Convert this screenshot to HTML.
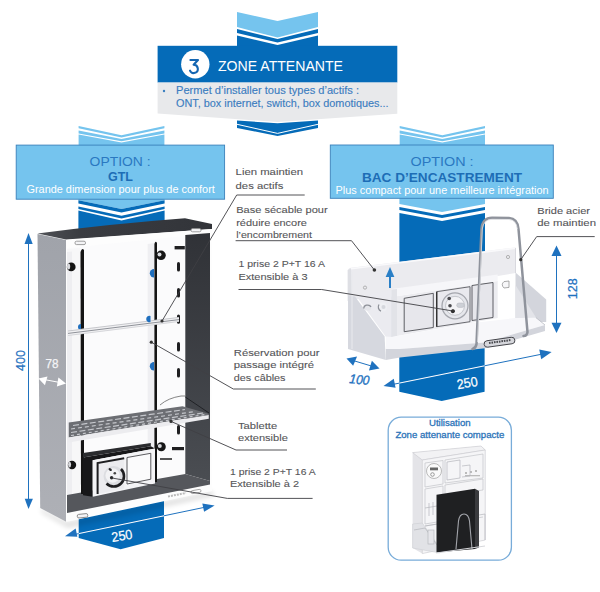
<!DOCTYPE html>
<html><head><meta charset="utf-8">
<style>
html,body{margin:0;padding:0;background:#fff;width:600px;height:592px;overflow:hidden}
svg{display:block}
text{font-family:"Liberation Sans",sans-serif}
</style></head>
<body>
<svg width="600" height="592" viewBox="0 0 600 592">
<rect width="600" height="592" fill="#fff"/>

<!-- ===== TOP: zone attenante ===== -->
<polygon points="237,12 277.5,21 318,12 318,27 277.5,37.5 237,27" fill="#75c4ee"/>
<polygon points="237,29 277.5,39 318,29 318,33 277.5,42.5 237,33" fill="#056bb8"/>
<polygon points="237,35.5 277.5,45 318,35.5 318,47 237,47" fill="#056bb8"/>
<rect x="157.6" y="45.8" width="239.7" height="36.8" fill="#056bb8"/>
<polygon points="157.6,82.6 397.3,82.6 397.3,113.8 277.5,122 157.6,113.5" fill="#e8e9eb"/>
<polygon points="237,120.6 277.5,123.3 318,120.6 318,128 277.5,136 237,128" fill="#056bb8"/>
<polyline points="237,124.3 277.5,133.4 318,124.3" fill="none" stroke="#fff" stroke-width="1"/>
<circle cx="195.3" cy="64.3" r="14.2" fill="#fff"/>
<path d="M190.4,60 H198 L193.6,64.8 A4.1,4.1 0 1 1 190,70.6" fill="none" stroke="#1466b2" stroke-width="2.1" stroke-linecap="round" stroke-linejoin="round"/>
<text x="218" y="70.5" font-size="14" fill="#fff" textLength="125" lengthAdjust="spacingAndGlyphs">ZONE ATTENANTE</text>
<circle cx="164" cy="91" r="1.2" fill="#3a7fc0"/>
<text x="176" y="94.4" font-size="10" fill="#3a7cc0" stroke="#3a7cc0" stroke-width="0.12" textLength="183" lengthAdjust="spacingAndGlyphs">Permet d’installer tous types d’actifs :</text>
<text x="176" y="106.7" font-size="10" fill="#3a7cc0" stroke="#3a7cc0" stroke-width="0.12" textLength="212.5" lengthAdjust="spacingAndGlyphs">ONT, box internet, switch, box domotiques...</text>

<!-- ===== LEFT panel chevron ===== -->
<polygon points="78.6,125.9 121.5,135.2 164.4,125.9 164.4,128.2 121.5,137.6 78.6,128.2" fill="#75c4ee"/>
<polygon points="78.6,130.6 121.5,139 164.4,130.6 164.4,133.4 121.5,141.3 78.6,133.4" fill="#75c4ee"/>
<polygon points="78.6,134.6 121.5,142.5 164.4,134.6 164.4,146 78.6,146" fill="#75c4ee"/>
<!-- left blue bar below panel -->
<polygon points="78.4,199 164.6,199 164.6,200.3 121.5,209 78.4,200.3" fill="#75c4ee"/>
<polygon points="78.4,200.3 121.5,209 164.6,200.3 164.6,203.4 121.5,212.5 78.4,203.4" fill="#056bb8"/>
<polygon points="78.4,206.5 121.5,215.7 164.6,206.5 164.6,209 121.5,218.5 78.4,209" fill="#056bb8"/>
<polygon points="78.4,210.6 121.5,220.4 164.6,210.6 164.6,228 78.4,236" fill="#056bb8"/>
<polygon points="78.7,490 164,490 164,538 120.6,549.3 78.7,538" fill="#056bb8"/>

<rect x="16.2" y="145.1" width="208.4" height="54.1" fill="#75c4ee" stroke="#3a80ba" stroke-width="0.9"/>
<text x="120.1" y="166" font-size="12.5" text-anchor="middle" fill="#2a78c1" textLength="61" lengthAdjust="spacingAndGlyphs">OPTION :</text>
<text x="120.5" y="181" font-size="12.5" font-weight="bold" text-anchor="middle" fill="#1d6db6">GTL</text>
<text x="26.5" y="193.3" font-size="10" fill="#fff" textLength="188.3" lengthAdjust="spacingAndGlyphs">Grande dimension pour plus de confort</text>

<!-- ===== RIGHT panel chevron ===== -->
<polygon points="399.7,125.9 442.3,135.2 485,125.9 485,128.2 442.3,137.6 399.7,128.2" fill="#75c4ee"/>
<polygon points="399.7,130.6 442.3,139 485,130.6 485,133.4 442.3,141.3 399.7,133.4" fill="#75c4ee"/>
<polygon points="399.7,134.6 442.3,142.5 485,134.6 485,146 399.7,146" fill="#75c4ee"/>
<polygon points="399.4,198 485,198 485,204 442,212 399.4,204" fill="#75c4ee"/>
<polygon points="399.4,207 442,215 485,207 485,210 442,218 399.4,210" fill="#056bb8"/>
<polygon points="399.4,213 442,221 485,213 485,262 399.4,270" fill="#056bb8"/>
<polygon points="399.3,353 484.6,346 484.6,391.7 441.7,401 399.3,391.7" fill="#056bb8"/>

<rect x="330.3" y="145" width="223" height="53.3" fill="#75c4ee" stroke="#3a80ba" stroke-width="0.9"/>
<text x="442.1" y="166.4" font-size="12.5" text-anchor="middle" fill="#2a78c1" textLength="63" lengthAdjust="spacingAndGlyphs">OPTION :</text>
<text x="442" y="181.7" font-size="12.5" font-weight="bold" text-anchor="middle" fill="#1d6db6" textLength="160" lengthAdjust="spacingAndGlyphs">BAC D’ENCASTREMENT</text>
<text x="335.6" y="193.7" font-size="10" fill="#fff" textLength="213" lengthAdjust="spacingAndGlyphs">Plus compact pour une meilleure intégration</text>

<!-- GTL cabinet -->
<g id="gtl">
<defs>
<linearGradient id="gside" x1="0" y1="0" x2="0" y2="1"><stop offset="0" stop-color="#a0a3aa"/><stop offset="1" stop-color="#aeb0b6"/></linearGradient>
<linearGradient id="gtop" x1="0" y1="0" x2="1" y2="0"><stop offset="0" stop-color="#505257"/><stop offset="0.25" stop-color="#3a3c41"/><stop offset="1" stop-color="#323439"/></linearGradient>
<linearGradient id="gwall" x1="0" y1="0" x2="0" y2="1"><stop offset="0" stop-color="#303237"/><stop offset="1" stop-color="#4a4d52"/></linearGradient>
</defs>
<defs><filter id="blur3" x="-20%" y="-50%" width="140%" height="200%"><feGaussianBlur stdDeviation="2.5"/></filter></defs>
<polygon points="40,508 66.7,522 212,491 214,496 68,528 42,513" fill="#000" opacity="0.12" filter="url(#blur3)"/>
<!-- left gray side -->
<polygon points="37.5,234 66,240 66.7,522 40.2,508" fill="url(#gside)"/>
<!-- top face -->
<path d="M37.5,233.5 Q110,224 185,218.3 L212,224 L212,229 L66,239.5 Z" fill="url(#gtop)"/>
<!-- front white face -->
<polygon points="66,240 212,229 212,491 66,522" fill="#fdfdfd"/>
<!-- interior back wall -->
<polygon points="67,248 185,236 185,475 67,496" fill="#fbfbfc"/>
<!-- left strip shading -->
<polygon points="67,249 80.5,248 80.5,494 67,496" fill="#f7f7f8"/>
<polygon points="67,252 72,251.5 72,494 67,496" fill="#eeeef1"/>
<!-- right rail side strips -->
<polygon points="147.6,244 154.4,243 154.4,482 147.6,484" fill="#efeff2"/>
<!-- right interior wall -->
<polygon points="185.3,235 210,233 210,481 185.3,474" fill="url(#gwall)"/>
<!-- floor -->
<polygon points="67,495 185.3,474 210,481 210,484.5 67,513" fill="#55575c"/>
<!-- rails -->
<path d="M80.5,252 Q82,247 84,250 L84,494 L81,494 Z" fill="#141414"/>
<path d="M154.4,244 Q155.5,240 157,243 L157,482 L154.4,482 Z" fill="#141414"/>
<!-- right area slots -->
<g fill="#1f1f21">
<rect x="177" y="262" width="3" height="9.5" rx="1.5"/>
<rect x="177" y="288" width="3" height="9.5" rx="1.5"/>
<rect x="177" y="314.5" width="3" height="9.2" rx="1.5"/>
<rect x="177" y="342" width="3" height="9.5" rx="1.5"/>
<rect x="177" y="368" width="3" height="9.5" rx="1.5"/>
<rect x="177" y="425" width="3" height="9.5" rx="1.5"/>
<rect x="174.6" y="246" width="10.2" height="3.4"/>
<rect x="172" y="447" width="12" height="3.2"/>
<rect x="160" y="458" width="12" height="2" fill="#555"/>
</g>
<!-- knobs -->
<circle cx="71.2" cy="266.9" r="4.4" fill="#141414"/>
<ellipse cx="68.6" cy="266.5" rx="1.6" ry="3" fill="#d8d9dd"/>
<circle cx="161" cy="255.3" r="4.8" fill="#161616"/>
<circle cx="159.5" cy="254.5" r="2" fill="#d9dbe0"/>
<circle cx="72" cy="465" r="4.2" fill="#141414"/>
<ellipse cx="69.6" cy="464.6" rx="1.5" ry="2.8" fill="#d8d9dd"/>
<circle cx="161.3" cy="446.7" r="4.5" fill="#161616"/>
<circle cx="159.8" cy="446" r="2" fill="#d9dbe0"/>
<!-- blue clips -->
<path d="M154,269 a4.2,4.2 0 1 0 0,8.4 z" fill="#1f6fbe"/>
<path d="M154,362 a4.2,4.2 0 1 0 0,8.4 z" fill="#1f6fbe"/>
<path d="M81,324 a3,3 0 1 0 0,6 z" fill="#1f6fbe"/>
<!-- top slots -->
<rect x="75" y="241.2" width="10.5" height="3.4" rx="1.5" fill="#f4f4f6" stroke="#888" stroke-width="0.8"/>
<rect x="191" y="228.6" width="10" height="3.2" rx="1.5" fill="#f4f4f6" stroke="#888" stroke-width="0.8"/>
<!-- rod -->
<polygon points="68,330.6 179,317 179,321.8 68,335.8" fill="#f1f1f3"/>
<line x1="68" y1="331" x2="179" y2="317.4" stroke="#b4b6bc" stroke-width="0.7"/>
<line x1="68" y1="333.4" x2="179" y2="319.6" stroke="#8f9299" stroke-width="1"/>
<line x1="68" y1="335.5" x2="179" y2="321.5" stroke="#c8cacf" stroke-width="0.7"/>
<path d="M150.5,316 a3.2,3.2 0 1 0 0,6 z" fill="#1f6fbe"/>
<!-- shelf -->
<path d="M160,405 Q168,398 181,396 L185.3,396" fill="none" stroke="#777" stroke-width="0.9"/>
<polygon points="68.75,422.5 182.5,406.25 208.75,413.75 208.75,415 68.75,437.5" fill="#6c6e73"/>
<g stroke="#c4c6cb" stroke-width="1.2" stroke-dasharray="6,2.5">
<line x1="73" y1="425.5" x2="185" y2="409.5"/>
<line x1="71" y1="429" x2="195" y2="411.5" stroke-dasharray="4,3"/>
<line x1="71" y1="432.5" x2="203" y2="413" />
<line x1="71" y1="435.5" x2="205" y2="414.5" stroke-dasharray="3,3"/>
</g>
<polygon points="68.75,437.5 208.75,415 208.75,418.75 68.75,442.5" fill="#ececef"/>
<line x1="185.3" y1="397" x2="209" y2="413" stroke="#202226" stroke-width="1"/>
<!-- socket box -->
<polygon points="83,457.5 150.8,446.3 155,448.4 92.7,460.3 92.7,496.7 83,495.3" fill="#171719"/>
<polygon points="83,453 150.8,443 150.8,446.3 83,457.5" fill="#2a2b2e"/>
<polygon points="92.7,460.3 155,448.4 155,483.4 92.7,496.7" fill="#f4f4f6"/>
<polygon points="97.6,463 124.2,458.2 124.2,488.5 97.6,494" fill="#ececef"/>
<polyline points="97.6,494 97.6,463 124.2,458.2" fill="none" stroke="#1e1e20" stroke-width="2"/>
<circle cx="113.7" cy="476.1" r="10.2" fill="#dcdde1"/>
<path d="M121,469 A10.2,10.2 0 0 1 106.5,483.5" fill="none" stroke="#1e1e20" stroke-width="2.6"/>
<circle cx="112.7" cy="475.5" r="7.2" fill="#f2f2f4"/>
<ellipse cx="110.2" cy="469.6" rx="1.8" ry="1.2" fill="#2a2a2c" transform="rotate(35 110.2 469.6)"/>
<circle cx="114.8" cy="473.3" r="1.3" fill="#444"/>
<circle cx="111.6" cy="477.8" r="1.7" fill="#2a2a2c"/>
<polygon points="127,457.5 150.8,453.3 150.8,479.2 127,484" fill="#fbfbfc" stroke="#4a4a4e" stroke-width="0.9"/>
<!-- bottom slot / logo -->
<rect x="77.3" y="514" width="10.5" height="3.6" rx="1.5" fill="#f4f4f6" stroke="#777" stroke-width="0.8" transform="rotate(-6 82.5 516)"/>
<rect x="191" y="490" width="10" height="3" rx="1.5" fill="none" stroke="#888" stroke-width="0.7" transform="rotate(-10 196 491.5)"/>
<line x1="168" y1="496.5" x2="186" y2="493" stroke="#bbb" stroke-width="2" stroke-dasharray="2,1"/>
</g>

<!-- BAC -->
<g id="bac">
<!-- back plate -->
<path d="M348,271 Q348,268 351,267.8 L515.5,247.4 L515.5,273 L352,300 L348,301 Z" fill="#ebebef"/>
<polygon points="347.6,270 351,268.5 352,300 347.6,301" fill="#dedfe4"/>
<line x1="351" y1="268.8" x2="515.5" y2="248.2" stroke="#f9f9fb" stroke-width="1.6"/>
<line x1="515.5" y1="248" x2="515.5" y2="273" stroke="#d0d1d7" stroke-width="0.8"/>
<!-- right bracket -->
<polygon points="515.5,272.5 546.2,299.5 546.2,322 515.5,322" fill="#d3d5dc"/>
<polygon points="515.5,285 536,317.5 515.5,318" fill="#e3e4e9"/>
<!-- left bracket face -->
<polygon points="348,296 355,296.4 384.6,336.4 385.8,360 348,349" fill="#d6d8df"/>
<line x1="352" y1="272" x2="352" y2="349" stroke="#e9eaee" stroke-width="1"/>
<!-- inner region -->
<polygon points="357,297 392,290 392,337 385.8,336.7" fill="#ebebf0"/>
<ellipse cx="367.5" cy="308" rx="3.6" ry="2.6" fill="#e4e5ea"/>
<path d="M364,308.5 A3.6,2.6 0 0 1 371,307" fill="none" stroke="#8d9098" stroke-width="1.3"/>
<circle cx="382.6" cy="307" r="4.6" fill="#eeeff3"/>
<path d="M379,304.5 A4.6,4.6 0 0 0 381,311.2" fill="none" stroke="#8d9098" stroke-width="1.3"/>
<circle cx="383.5" cy="307" r="2" fill="#d5d7dd"/>
<!-- module block -->
<polygon points="391.3,297 497.7,281 497.7,318 391.3,337" fill="#ececf0"/>
<polygon points="391.3,289 497.7,274.5 497.7,281 391.3,297" fill="#f6f6f9"/>
<polygon points="391.3,289.5 397,289 397,336 391.3,337" fill="#e2e3e8"/>
<polygon points="404.2,298.3 433.3,293.3 433.3,327.5 404.2,331.7" fill="#e7e7ec" stroke="#4e4f55" stroke-width="0.9"/>
<polygon points="436.7,291.7 470,286.7 470,321.7 436.7,326.7" fill="#e9e9ee" stroke="#5a5b61" stroke-width="0.9"/>
<line x1="436.7" y1="291.7" x2="436.7" y2="326.7" stroke="#333" stroke-width="1.4"/>
<circle cx="455" cy="305.8" r="13" fill="#e6e7ec" stroke="#a5a7ae" stroke-width="1.3"/>
<circle cx="455" cy="305.8" r="9.5" fill="#f3f3f6" stroke="#c3c5cb" stroke-width="1"/>
<circle cx="449.2" cy="298.5" r="1.8" fill="#4a4a4e"/>
<circle cx="450" cy="305.8" r="1.8" fill="#4a4a4e"/>
<circle cx="452.8" cy="311.3" r="1.9" fill="#2f2f33"/>
<rect x="456.7" y="303" width="7.5" height="4.4" rx="2.2" fill="#cdd0d6" stroke="#b5b7bd" stroke-width="0.5"/>
<polygon points="472,285.5 493,282.5 493,317.5 472,320.5" fill="#e6e6eb" stroke="#4e4f55" stroke-width="0.9"/>
<path d="M509,281 L504,281.6 Q500.5,284.5 504,288 L509,287.4 Z" fill="#f7f7f9" stroke="#888" stroke-width="0.7"/>
<!-- tray top -->
<polygon points="385.8,336.7 392,337 470,323.3 515.5,318 535.8,317.5 545,325 485,342.5 400,349 385.8,349" fill="#f7f7fa"/>
<polyline points="535.8,317.5 545,325" fill="none" stroke="#b9bbc2" stroke-width="0.8"/>
<!-- tray front lip -->
<polygon points="385.8,349 400,349 485,342.5 545,325 545,331 485,348.3 400,357.5 385.8,360" fill="#d3d5dc"/>
<!-- nameplate -->
<rect x="484" y="339" width="31" height="6.5" rx="3.2" fill="#d6d7dc" stroke="#3c3d42" stroke-width="0.9" transform="rotate(-8 499.5 342.2)"/>
<line x1="489" y1="343" x2="511" y2="340" stroke="#4a4b50" stroke-width="2" stroke-dasharray="1.6,0.9"/>
<!-- steel bridge -->
<path d="M472.5,349 Q476,348 476.5,344 L481.5,229 Q482.5,218 492,217.8 L509,218 Q517.5,218.5 518.5,229 L527.5,332 Q527,336 523.5,336" fill="none" stroke="#8f939c" stroke-width="2.5" stroke-linejoin="round" stroke-linecap="round"/>
<path d="M477.5,342 L482.3,229 Q483.5,219.5 492,219.3 L509,219.5 Q516.5,220 517.3,229" fill="none" stroke="#dfe1e5" stroke-width="0.8"/>
<!-- up arrow on plate -->
<line x1="390" y1="288" x2="390" y2="275" stroke="#2a7fc6" stroke-width="2"/>
<polygon points="390,267 385.6,277 394.4,277" fill="#2a7fc6"/>
<circle cx="365" cy="287.6" r="1.6" fill="none" stroke="#999" stroke-width="0.7"/>
<circle cx="508" cy="257" r="1.6" fill="none" stroke="#999" stroke-width="0.7"/>
</g>

<!-- ===== dimension arrows ===== -->
<g fill="#1f72bf" stroke="#1f72bf">
<!-- 400 -->
<line x1="28.5" y1="243" x2="28.5" y2="499" stroke-width="1"/>
<polygon points="28.5,233 24.5,244 32.7,244" stroke="none"/>
<polygon points="28.5,509 24.7,498.8 32.9,498.8" stroke="none"/>
<!-- 250 left -->
<line x1="72" y1="535" x2="206" y2="507" stroke-width="1"/>
<polygon points="65,536.3 77,531 77,539.4" stroke="none" transform="rotate(-12 65 536.3)"/>
<polygon points="214.6,505.5 203,501 203,509.5" stroke="none" transform="rotate(-12 214.6 505.5)"/>
<!-- 100 -->
<line x1="352" y1="360.2" x2="374" y2="366.8" stroke-width="1"/>
<polygon points="346.5,358.5 356,353.5 355,363.5" stroke="none" transform="rotate(17 346.5 358.5)"/>
<polygon points="379.5,368.4 370,363.4 370,373.4" stroke="none" transform="rotate(17 379.5 368.4)"/>
<!-- 250 right -->
<line x1="390" y1="385" x2="545" y2="353.5" stroke-width="1"/>
<polygon points="383.5,386 395,381 395,390" stroke="none" transform="rotate(-11.5 383.5 386)"/>
<polygon points="551.6,352 540,347 540,357" stroke="none" transform="rotate(-11.5 551.6 352)"/>
<!-- 128 -->
<line x1="556.5" y1="254" x2="556.5" y2="324" stroke-width="1"/>
<polygon points="556.5,245.6 551.5,256 561.5,256" stroke="none"/>
<polygon points="556.5,333 551.5,322.7 561.5,322.7" stroke="none"/>
</g>
<!-- white arrow segments over blue -->
<line x1="78.7" y1="533.6" x2="164" y2="515.8" stroke="#fff" stroke-width="1"/>
<line x1="399.3" y1="383.1" x2="484.6" y2="365.8" stroke="#fff" stroke-width="1"/>
<!-- 78 arrow -->
<g fill="#fff" stroke="#fff">
<line x1="44" y1="379.5" x2="60" y2="382.5" stroke-width="1"/>
<polygon points="38.5,378.5 47,375 46,384" stroke="none" transform="rotate(10 38.5 378.5)"/>
<polygon points="66,383.5 57.5,379 57.5,388" stroke="none" transform="rotate(10 66 383.5)"/>
</g>
<text x="52" y="368" font-size="12" text-anchor="middle" fill="#f4f4f6" stroke="#f4f4f6" stroke-width="0.25" textLength="13" lengthAdjust="spacingAndGlyphs">78</text>
<text transform="translate(25.4 360.5) rotate(-90)" font-size="13" text-anchor="middle" fill="#1f72bf" stroke="#1f72bf" stroke-width="0.22" textLength="21" lengthAdjust="spacingAndGlyphs">400</text>
<text transform="translate(122.6 540.3) rotate(-9)" font-size="13.5" text-anchor="middle" fill="#fff" stroke="#fff" stroke-width="0.22" textLength="21" lengthAdjust="spacingAndGlyphs">250</text>
<text transform="translate(468 387.5) rotate(-10)" font-size="13.5" text-anchor="middle" fill="#fff" stroke="#fff" stroke-width="0.22" textLength="21" lengthAdjust="spacingAndGlyphs">250</text>
<text transform="translate(359 384) rotate(6)" font-size="13" font-style="italic" text-anchor="middle" fill="#1f72bf" stroke="#1f72bf" stroke-width="0.4" textLength="20" lengthAdjust="spacingAndGlyphs">100</text>
<text transform="translate(577 288.8) rotate(-90)" font-size="13" text-anchor="middle" fill="#1f72bf" stroke="#1f72bf" stroke-width="0.22" textLength="21" lengthAdjust="spacingAndGlyphs">128</text>

<!-- ===== labels ===== -->
<g font-size="9.8" fill="#555558" stroke="#555558" stroke-width="0.1">
<text x="235.6" y="175.3" textLength="67.4" lengthAdjust="spacingAndGlyphs">Lien maintien</text>
<text x="235.6" y="188.7" textLength="47.7" lengthAdjust="spacingAndGlyphs">des actifs</text>
<text x="236.2" y="213.2" textLength="91.5" lengthAdjust="spacingAndGlyphs">Base sécable pour</text>
<text x="236.2" y="226.2" textLength="70.8" lengthAdjust="spacingAndGlyphs">réduire encore</text>
<text x="236.2" y="238" textLength="75.8" lengthAdjust="spacingAndGlyphs">l’encombrement</text>
<text x="238.5" y="267" textLength="86.5" lengthAdjust="spacingAndGlyphs">1 prise 2 P+T 16 A</text>
<text x="238.5" y="279.5" textLength="69" lengthAdjust="spacingAndGlyphs">Extensible à 3</text>
<text x="233.8" y="355.5" textLength="85.7" lengthAdjust="spacingAndGlyphs">Réservation pour</text>
<text x="233.8" y="368.4" textLength="80.2" lengthAdjust="spacingAndGlyphs">passage intégré</text>
<text x="233.8" y="380.8" textLength="51.7" lengthAdjust="spacingAndGlyphs">des câbles</text>
<text x="238" y="428.9" textLength="39.2" lengthAdjust="spacingAndGlyphs">Tablette</text>
<text x="238" y="441.2" textLength="49.8" lengthAdjust="spacingAndGlyphs">extensible</text>
<text x="230" y="475" textLength="85.7" lengthAdjust="spacingAndGlyphs">1 prise 2 P+T 16 A</text>
<text x="230" y="487" textLength="69" lengthAdjust="spacingAndGlyphs">Extensible à 2</text>
<text x="537.3" y="213.7" textLength="52.7" lengthAdjust="spacingAndGlyphs">Bride acier</text>
<text x="537.3" y="226.3" textLength="58.7" lengthAdjust="spacingAndGlyphs">de maintien</text>
</g>
<!-- leader lines -->
<g fill="none" stroke="#3f4044" stroke-width="0.9">
<polyline points="304.7,195 236.7,195 162,321"/>
<polyline points="351.5,240.7 235.6,240.7"/>
<polyline points="351.5,240.7 374.4,270"/>
<polyline points="238.5,289.5 321.7,289.5 453,311"/>
<polyline points="315.8,389 233.3,389 151.3,342.2"/>
<polyline points="287,450 236,450 171,421.4"/>
<polyline points="312.6,498.4 227.3,498.4 112,478"/>
<polyline points="594.7,236.6 536.7,236.6 520.7,259.7"/>
</g>
<g fill="#333">
<circle cx="162" cy="321" r="1.6"/>
<circle cx="374.4" cy="270" r="1.8"/>
<circle cx="453" cy="311" r="1.8"/>
<circle cx="151.3" cy="342.2" r="1.6"/>
<circle cx="171" cy="421.4" r="1.6"/>
<circle cx="520.7" cy="259.7" r="1.6"/>
</g>

<!-- ===== inset ===== -->
<g id="inset">
<rect x="388.2" y="417.2" width="123.2" height="143" rx="13" fill="#fff" stroke="#78acd9" stroke-width="1.3"/>
<text x="449.8" y="426.2" font-size="9.5" text-anchor="middle" fill="#2c74b9" stroke="#2c74b9" stroke-width="0.3" textLength="41.7" lengthAdjust="spacingAndGlyphs">Utilisation</text>
<text x="449.9" y="437.6" font-size="9.5" text-anchor="middle" fill="#2c74b9" stroke="#2c74b9" stroke-width="0.3" textLength="109" lengthAdjust="spacingAndGlyphs">Zone attenante compacte</text>
<!-- cabinet -->
<polygon points="412.6,452.6 481,446 485.2,450 485.2,540 422.3,553.6 412.6,548" fill="#e4e4e8"/>
<polygon points="412.6,452.6 481,446 485.2,450 422.3,460" fill="#f2f2f4" stroke="#c9cacf" stroke-width="0.6"/>
<polygon points="422.3,460 485.2,450 485.2,540 422.3,553.6" fill="#f5f5f7" stroke="#c9cacf" stroke-width="0.6"/>
<g fill="none" stroke="#c3c4c9" stroke-width="0.7">
<polygon points="425,463 443,460.5 443,484 425,487"/>
<polygon points="445,460 483,454 483,478 445,483"/>
<polygon points="425,489 443,486 443,521 425,524"/>
<polygon points="445,485 483,479 483,490 445,495"/>
<line x1="425" y1="526" x2="483" y2="517"/>
</g>
<circle cx="434" cy="471" r="7.5" fill="#fafafa" stroke="#aaa" stroke-width="0.8"/>
<rect x="430" y="467.5" width="8" height="2.8" fill="#666"/>
<circle cx="432.5" cy="474.5" r="1.8" fill="none" stroke="#777" stroke-width="0.7"/>
<g fill="#bbb"><rect x="465" y="472" width="2" height="2"/><rect x="470" y="471" width="2" height="2"/><rect x="475" y="470" width="2" height="2"/><rect x="465" y="475" width="15" height="1.3"/></g>
<polygon points="412.6,524 422.3,523 440,548 440,553 412.6,548" fill="#e1e2e6" stroke="#c9cacf" stroke-width="0.5"/>
<g fill="none" stroke="#b5b6bb" stroke-width="0.7">
<polyline points="447,462 460,460 460,478 447,480 447,462"/>
<polyline points="462,466 470,465 470,476 462,477"/>
<line x1="425" y1="508" x2="437" y2="506"/>
<line x1="429" y1="503" x2="429" y2="516"/>
<line x1="433" y1="502" x2="433" y2="515"/>
<line x1="425" y1="526" x2="437" y2="524"/>
<polyline points="414,530 425,528 437,545"/>
<polyline points="479,515 485,514 485,540"/>
</g>
<rect x="428" y="530" width="6" height="14" fill="#e6e6ea" stroke="#b0b2b7" stroke-width="0.6"/>
<!-- black box -->
<polygon points="475,488.7 479,491 479,547.5 475,549" fill="#3a3b3e"/>
<polygon points="436.5,494.8 475,488.7 475,549 436.5,552.6" fill="#1f2022"/>
<path d="M456,549 L458.5,521 Q459.5,514 464,514 Q468.5,514 469.5,521 L472,549" fill="none" stroke="#a3a5ab" stroke-width="1.1"/>
<line x1="436" y1="553" x2="485" y2="546" stroke="#d7d8dc" stroke-width="1.2"/>
</g>
</svg>
</body></html>
